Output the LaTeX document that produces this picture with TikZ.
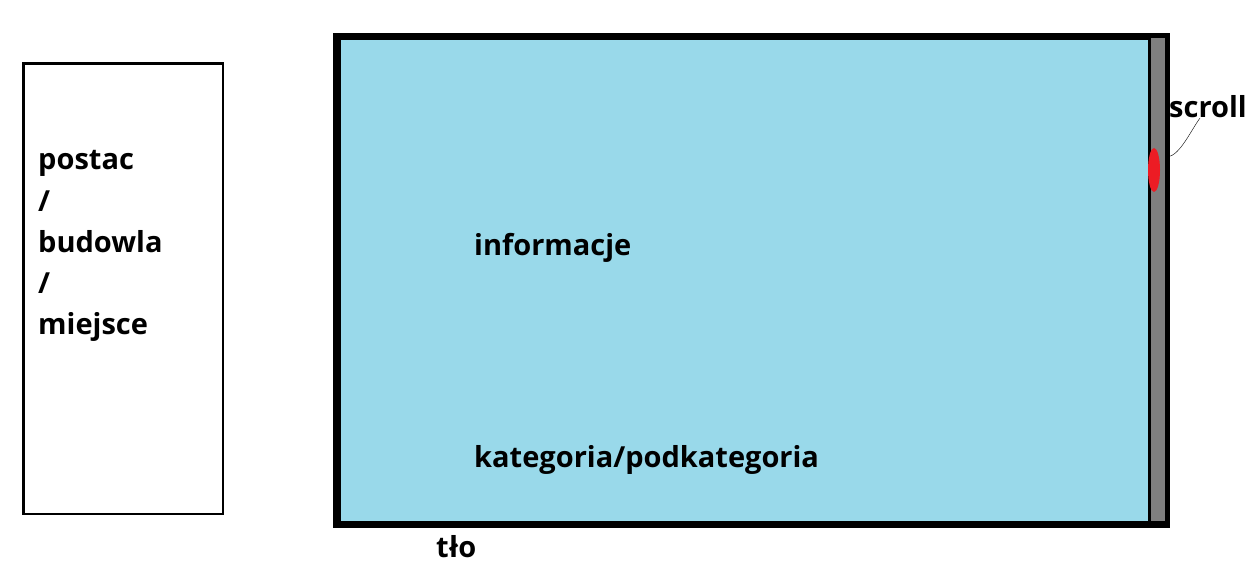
\documentclass[tikz,border=0pt]{standalone}
\usepackage{fontspec}
\setmainfont{Open Sans}
\usetikzlibrary{
    positioning,
    shapes.geometric
}
\definecolor{tlo}{RGB}{153,217,234}
\definecolor{pasek}{RGB}{127,127,127}
\definecolor{suwak}{RGB}{237,28,36}
\tikzset{
    etykieta/.style={
        inner sep=0pt,
        font=\bfseries\fontsize{29}{41.3}\selectfont
    }
}
\begin{document}
\begin{tikzpicture}[
    x=1pt,
    y=-1pt
]
    \useasboundingbox (0,0) rectangle (1248,569);

    % Panel boczny
    \node[draw, line width=2.5pt, minimum width=199.5pt, minimum height=450.5pt,
          anchor=north west, inner sep=0pt] (panel) at (22.25,62.25) {};
    \node[etykieta, align=left, anchor=base west] (rodzaj) at (38,335)
        {postac\\/\\budowla\\/\\miejsce};

    % Okno glowne
    \node[draw, fill=tlo, line width=5pt, minimum width=827pt, minimum height=485pt,
          anchor=north west, inner sep=0pt] (okno) at (335.5,35.5) {};
    \node[draw, fill=pasek, line width=3pt, minimum width=17pt, minimum height=485pt,
          anchor=north east, inner sep=0pt] (pasek) at (okno.north east) {};
    \draw[line width=5pt] (okno.north west) rectangle (okno.south east);
    \node[ellipse, fill=suwak, minimum width=12pt, minimum height=44pt,
          inner sep=0pt] (suwak) at (1154,170) {};

    % Opisy
    \node[etykieta, anchor=base west] (informacje) at (474,256) {informacje};
    \node[etykieta, anchor=base west] (kategoria) at (474,467) {kategoria/podkategoria};
    \node[etykieta, anchor=base west] (tlo) at (436,557) {tło};
    \node[etykieta, anchor=base west] (scroll) at (1169,118) {scroll};

    % Odnosnik do suwaka
    \coordinate (odn) at (okno.east |- 0,157);
    \draw[thin] (odn) .. controls (1180,155) and (1190,132) .. ([xshift=31pt]scroll.base west);

\end{tikzpicture}
\end{document}
